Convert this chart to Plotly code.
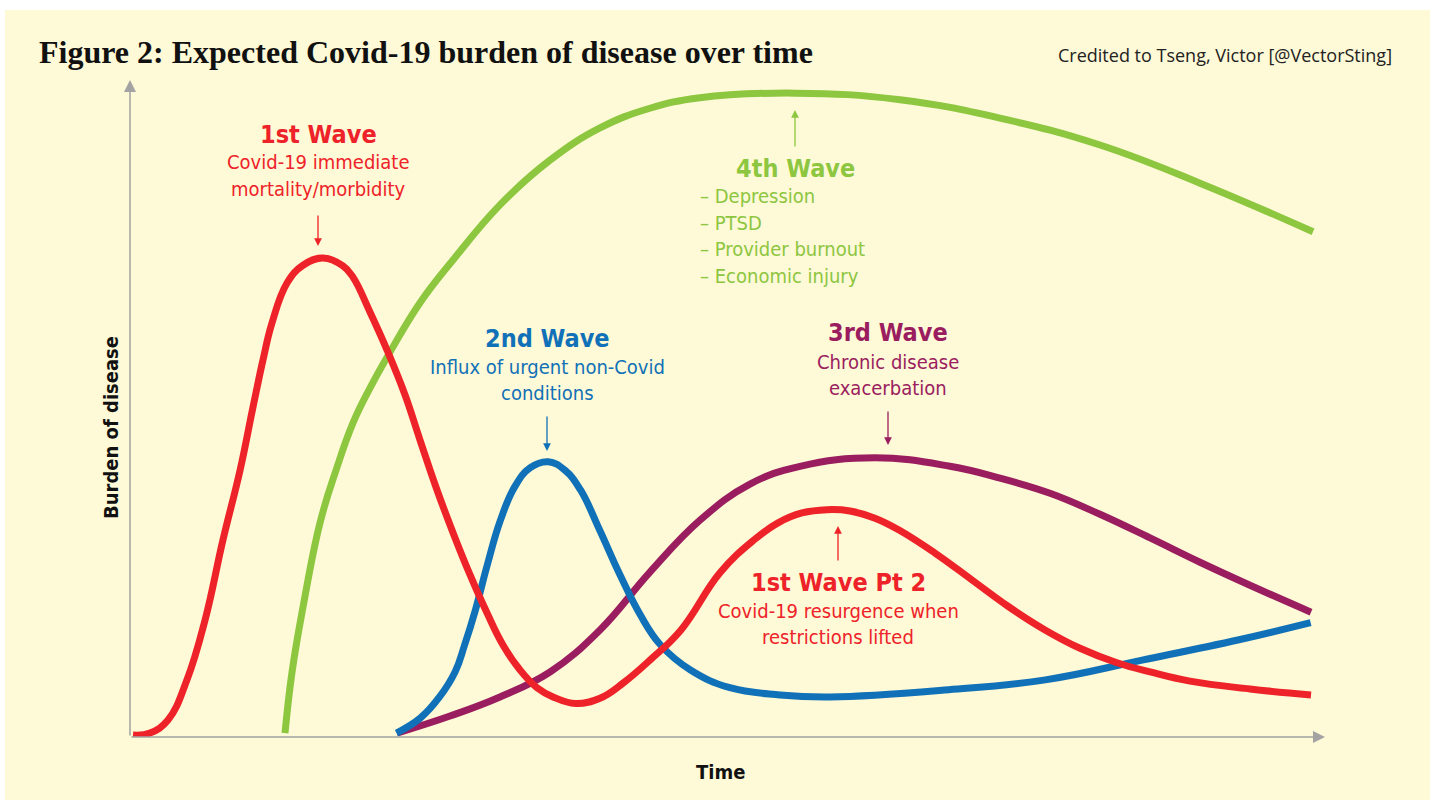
import plotly.graph_objects as go

W, H = 1435, 802

# ---- data (time 0-100, burden 0-100) ----
wave1_t = [0.25, 1.67, 3.18, 4.77, 6.28, 7.78, 9.21, 10.29, 11.13, 11.88, 13.14, 14.48, 16.15, 17.82,
           18.66, 20.08, 21.51, 23.01, 24.27, 25.69, 27.03, 28.45, 29.87, 31.21, 32.64, 34.06, 35.40,
           37.3, 39.33, 41.26, 43.51, 46.11, 49.37, 52.22, 54.23, 56.23, 58.33, 60.25, 62.34, 64.35,
           67.36, 70.46, 73.47, 76.57, 79.50, 82.59, 85.36, 88.70, 93.72, 98.83]
wave1_b = [0.3, 0.6, 2.6, 8.7, 17.8, 30.0, 40.6, 50.2, 57.4, 63.0, 69.1, 71.8, 72.9, 71.7,
           70.0, 64.7, 58.9, 52.1, 45.2, 37.6, 31.1, 24.7, 18.9, 14.0, 10.2, 7.5, 6.1,
           5.1, 5.9, 8.2, 11.7, 16.3, 25.0, 30.0, 32.6, 34.1, 34.6, 34.4, 33.3, 31.5,
           28.0, 23.9, 19.9, 16.3, 13.5, 11.3, 9.9, 8.5, 7.3, 6.4]

wave4_t = [12.97, 13.56, 14.48, 15.90, 17.24, 18.66, 20.08, 21.51, 24.27, 27.03, 30.96, 35.15, 39.33,
           43.51, 47.70, 55.65, 64.44, 72.80, 81.17, 89.54, 99.0]
wave4_b = [0.6, 9.9, 19.8, 32.6, 40.6, 47.8, 53.1, 57.8, 66.1, 72.6, 81.0, 87.8, 92.7,
           95.7, 97.3, 98.0, 97.0, 94.2, 90.1, 84.3, 76.9]

wave2_t = [22.3, 24.3, 25.9, 27.2, 28.0, 28.9, 29.9, 31.0, 32.2, 33.5, 35.0, 36.4, 37.7, 39.3, 41.0,
           42.7, 44.4, 46.9, 50.2, 54.4, 58.6, 68.5, 76.6, 84.7, 92.8, 98.8]
wave2_b = [0.6, 2.9, 6.1, 9.9, 14.0, 19.3, 26.2, 33.0, 38.1, 41.0, 41.9, 40.6, 37.6, 31.5, 24.7,
           18.6, 14.0, 10.2, 7.5, 6.4, 6.1, 7.2, 8.7, 11.7, 14.8, 17.4]

wave3_t = [22.34, 26.78, 30.96, 35.15, 39.33, 43.51, 47.70, 51.88, 56.07, 62.34, 68.62, 72.80, 76.99,
           81.17, 85.36, 89.54, 93.72, 98.83]
wave3_b = [0.6, 3.2, 6.1, 9.9, 16.3, 25.1, 33.0, 38.5, 41.2, 42.5, 41.2, 39.4, 37.1,
           33.9, 30.3, 26.6, 23.1, 19.0]

RED, GREEN, BLUE, PURPLE = "#EE2229", "#8DC63F", "#1071B8", "#9A1D5F"
BG = "#FEF9D6"
AXIS = "#A3A3A3"
NARROW = "Liberation Sans Narrow, DejaVu Sans Condensed, Arial Narrow, sans-serif"


def px(x):
    return x / W


def py(y):
    return 1 - y / H


X0, X1, Y0, Y1 = 130, 1325, 737, 80

fig = go.Figure()
for t, b, c in [(wave4_t, wave4_b, GREEN), (wave3_t, wave3_b, PURPLE),
                (wave2_t, wave2_b, BLUE), (wave1_t, wave1_b, RED)]:
    fig.add_trace(go.Scatter(x=t, y=b, mode="lines",
                             line=dict(color=c, width=7, shape="spline", smoothing=1.2),
                             hoverinfo="skip", showlegend=False))

shapes = [dict(type="rect", xref="paper", yref="paper", x0=px(5), x1=px(1430), y0=py(800), y1=py(10),
               fillcolor=BG, line=dict(width=0), layer="below")]

ann = []


def text(x, y, s, color, size, bold=False, family=NARROW, xanchor="center"):
    ann.append(dict(x=px(x), y=py(y), xref="paper", yref="paper", text=f"<b>{s}</b>" if bold else s,
                    showarrow=False, xanchor=xanchor, yanchor="middle",
                    font=dict(color=color, size=size, family=family)))


def arrow(x, y_tip, y_tail, color, width=1.3, head=2, size=1.2):
    ann.append(dict(x=px(x), y=py(y_tip), xref="paper", yref="paper", ax=0, ay=(y_tail - y_tip),
                    text="", showarrow=True, arrowhead=head, arrowsize=size, arrowwidth=width,
                    arrowcolor=color))


# axes (arrows)
ann.append(dict(x=px(1325), y=py(737), xref="paper", yref="paper", ax=-(1325 - 130), ay=0, text="",
                showarrow=True, arrowhead=2, arrowsize=1.6, arrowwidth=1.5, arrowcolor=AXIS))
ann.append(dict(x=px(130), y=py(80), xref="paper", yref="paper", ax=0, ay=(737 - 80), text="",
                showarrow=True, arrowhead=2, arrowsize=1.6, arrowwidth=1.5, arrowcolor=AXIS))

# title & credit
text(37, 52, "Figure 2: Expected Covid‑19 burden of disease over time", "#111111", 32, True,
     "Liberation Serif, DejaVu Serif, serif", "left")
text(1394, 55, "Credited to Tseng, Victor [@VectorSting]", "#222222", 18, False,
     "Open Sans, sans-serif", "right")

# axis labels
ann.append(dict(x=px(97), y=py(428), xref="paper", yref="paper", text="<b>Burden of disease</b>",
                showarrow=False, textangle=-90, font=dict(color="#111111", size=20, family=NARROW)))
text(720, 772, "Time", "#111111", 20, True)

# 1st wave
text(318, 134, "1st Wave", RED, 25, True)
text(318, 162, "Covid-19 immediate", RED, 20)
text(318, 189, "mortality/morbidity", RED, 20)
arrow(318, 246, 214, RED)

# 4th wave
text(795, 168, "4th Wave", GREEN, 25, True)
for i, s in enumerate(["– Depression", "– PTSD", "– Provider burnout", "– Economic injury"]):
    text(698, 196 + i * 26.7, s, GREEN, 20, False, NARROW, "left")
arrow(795, 110, 148, GREEN)

# 2nd wave
text(547, 338, "2nd Wave", BLUE, 25, True)
text(547, 367, "Influx of urgent non-Covid", BLUE, 20)
text(547, 393, "conditions", BLUE, 20)
arrow(547, 451, 415, BLUE)

# 3rd wave
text(888, 332, "3rd Wave", PURPLE, 25, True)
text(888, 362, "Chronic disease", PURPLE, 20)
text(888, 388, "exacerbation", PURPLE, 20)
arrow(888, 445, 410, PURPLE)

# 1st wave pt 2
text(838, 582, "1st Wave Pt 2", RED, 25, True)
text(838, 611, "Covid-19 resurgence when", RED, 20)
text(838, 637, "restrictions lifted", RED, 20)
arrow(838, 526, 562, RED)

fig.update_layout(
    width=W, height=H, margin=dict(l=0, r=0, t=0, b=0),
    paper_bgcolor="white", plot_bgcolor="rgba(0,0,0,0)",
    xaxis=dict(domain=[px(X0), px(X1)], range=[0, 100], visible=False, fixedrange=True),
    yaxis=dict(domain=[py(Y0), py(Y1)], range=[0, 100], visible=False, fixedrange=True),
    shapes=shapes, annotations=ann,
)

fig.write_html("out.html", config={"displayModeBar": False},
               post_script="document.body.style.margin='0';document.body.style.overflow='hidden';")
